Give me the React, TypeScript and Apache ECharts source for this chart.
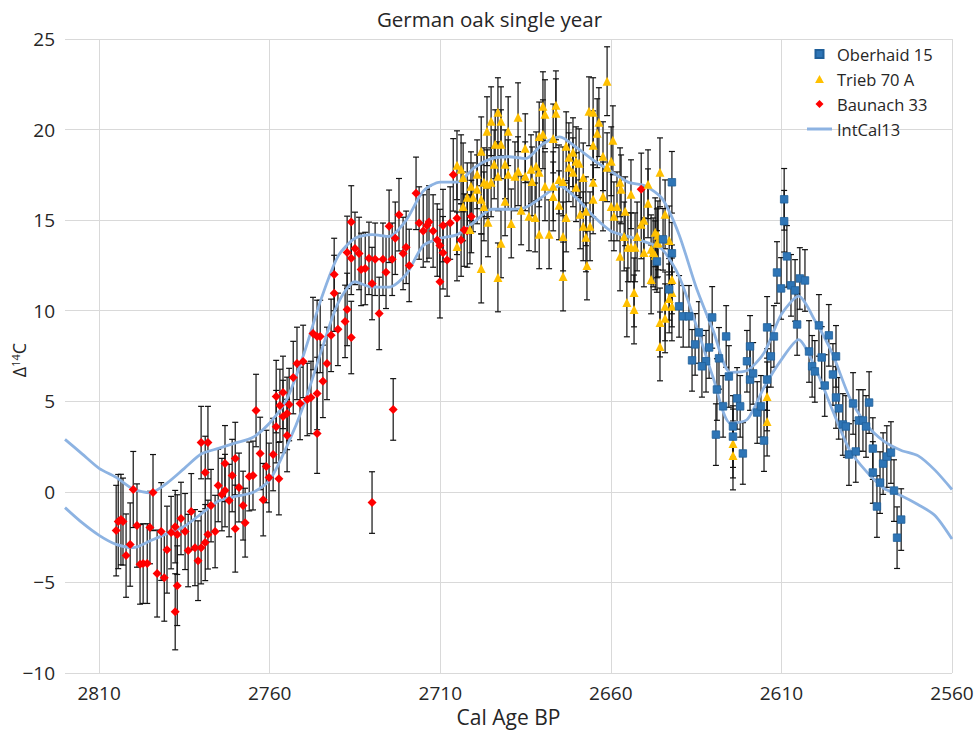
import React, { useEffect, useRef } from "react";
import * as echarts from "echarts";

// x values are plotted as (year - X_ORIGIN) so that ticks fall on 2810, 2760, ... 2560
const X_ORIGIN = 2560;
const X_SPAN = 260; // left edge = 2820 cal BP
const X_TICK_STEP = 50;
const Y_MIN = -10;
const Y_MAX = 25;
const Y_STEP = 5;

const TITLE = "German oak single year";
const X_NAME = "Cal Age BP";

const INTCAL_YEARS = [
  2820, 2815, 2810, 2805, 2800, 2795, 2790, 2785, 2780, 2775, 2770, 2765, 2760,
  2755, 2750, 2745, 2740, 2735, 2730, 2725, 2720, 2715, 2710, 2705, 2700,
  2695, 2690, 2685, 2680, 2675, 2670, 2665, 2660, 2655, 2650, 2645, 2640,
  2635, 2630, 2625, 2620, 2615, 2610, 2605, 2600, 2595, 2590, 2585, 2580,
  2575, 2570, 2565, 2560,
];
const INTCAL_UPPER = [
  2.9, 2.1, 1.3, 0.8, 0.15, -0.05, 0.5, 1.3, 2.1, 2.4, 2.7, 3.0, 3.8,
  5.1, 7.6, 10.6, 13.0, 14.0, 14.2, 14.1, 15.0, 16.6, 17.1, 17.1, 17.9,
  18.4, 18.5, 18.4, 19.2, 19.6, 19.0, 18.3, 17.7, 17.1, 16.9, 16.2, 14.2,
  11.3, 8.9, 6.6, 6.7, 7.7, 9.8, 10.8, 9.4, 7.6, 5.2, 3.7, 2.8,
  2.3, 2.0, 1.2, 0.13,
];
const INTCAL_LOWER = [
  -0.87, -1.7, -2.4, -2.9, -3.08, -2.7, -2.3, -1.9, -1.2, -0.5, -0.25, -0.04, 0.65,
  2.5, 4.8, 7.7, 10.4, 11.6, 11.3, 11.3, 12.0, 13.6, 14.0, 14.2, 14.9,
  15.6, 15.6, 15.7, 16.3, 16.9, 16.2, 15.2, 14.4, 14.1, 13.8, 13.4, 11.9,
  9.2, 6.3, 3.8, 4.0, 5.8, 7.3, 8.4, 6.8, 4.5, 2.3, 1.1, 0.2,
  -0.2, -0.7, -1.3, -2.6,
];

// [year, Δ14C]
const OBERHAID_15 = [
  [2642.1, 17.09], [2644.7, 13.94], [2642.1, 13.17], [2646.5, 12.72], [2642.9, 11.18],
  [2640.0, 10.24], [2638.8, 9.69], [2637.1, 9.69], [2630.3, 9.63], [2634.2, 8.8],
  [2635.3, 8.14], [2631.2, 7.97], [2636.2, 7.26], [2632.1, 7.21], [2633.3, 6.93],
  [2626.2, 8.58], [2628.3, 7.37], [2625.4, 6.37], [2628.9, 5.65], [2627.1, 4.72],
  [2629.2, 3.16], [2623.0, 5.16], [2622.1, 4.72], [2624.2, 3.61], [2624.2, 3.05],
  [2621.3, 2.12], [2620.1, 7.21], [2619.2, 8.03], [2619.2, 6.2], [2618.3, 6.54],
  [2617.1, 4.38], [2616.0, 4.72], [2615.1, 2.83], [2614.2, 6.2], [2614.2, 9.08],
  [2613.1, 7.48], [2612.2, 8.58], [2611.3, 12.11], [2610.1, 11.23], [2609.2, 16.15],
  [2609.2, 14.94], [2608.4, 13.0], [2607.2, 11.4], [2606.0, 11.12], [2605.4, 9.24],
  [2604.6, 11.78], [2603.1, 11.67], [2601.9, 7.75], [2601.0, 6.93], [2600.2, 6.65],
  [2599.0, 9.19], [2598.2, 7.42], [2597.3, 5.87], [2596.1, 8.64], [2594.9, 6.48],
  [2594.0, 7.48], [2594.0, 5.21], [2593.2, 4.61], [2592.0, 3.72], [2591.1, 3.61],
  [2590.2, 2.06], [2589.0, 4.88], [2588.2, 2.23], [2587.3, 3.94], [2586.1, 3.94],
  [2585.2, 3.61], [2584.3, 4.93], [2583.2, 2.39], [2583.2, 1.07], [2582.0, -0.81],
  [2581.1, 0.51], [2580.2, 1.56], [2579.1, 1.95], [2577.9, 2.17], [2577.0, 0.07],
  [2576.1, -2.53], [2574.9, -1.53],
];
const OBERHAID_SIGMA = 1.7;

const TRIEB_70A = [
  [2705.1, 18.03], [2705.1, 13.55], [2703.9, 17.81], [2703.3, 17.36], [2703.3, 15.76],
  [2702.1, 16.26], [2701.0, 16.87], [2701.3, 14.49], [2700.4, 16.26], [2699.2, 17.53],
  [2699.2, 16.7], [2698.0, 18.8], [2698.0, 16.15], [2698.0, 12.33], [2697.2, 17.09],
  [2697.2, 15.76], [2696.3, 16.98], [2696.3, 19.91], [2696.0, 14.88], [2695.1, 17.09],
  [2695.1, 20.46], [2694.2, 18.08], [2693.9, 19.19], [2693.1, 20.96], [2693.1, 17.42],
  [2693.1, 11.84], [2692.2, 20.46], [2692.2, 19.19], [2692.2, 13.72], [2691.0, 18.08],
  [2691.0, 16.04], [2690.1, 19.91], [2690.1, 17.53], [2689.2, 14.82], [2688.1, 17.42],
  [2687.2, 20.68], [2687.2, 17.7], [2686.3, 15.54], [2685.1, 18.97], [2685.1, 17.42],
  [2684.0, 15.21], [2683.4, 17.81], [2683.1, 17.14], [2682.2, 15.15], [2681.9, 17.97],
  [2681.0, 17.64], [2681.0, 14.22], [2681.0, 19.62], [2679.9, 21.29], [2679.9, 19.74],
  [2679.3, 20.85], [2679.3, 16.87], [2678.1, 14.22], [2676.9, 19.51], [2676.9, 16.87],
  [2676.9, 16.31], [2676.1, 21.34], [2676.1, 20.9], [2675.2, 17.25], [2675.2, 15.82],
  [2674.0, 17.14], [2674.0, 14.1], [2674.0, 11.89], [2673.1, 19.08], [2673.1, 15.15],
  [2672.3, 18.47], [2672.3, 17.92], [2671.1, 18.75], [2671.1, 17.64], [2670.2, 18.25],
  [2670.2, 16.82], [2669.3, 18.14], [2669.0, 15.32], [2668.1, 17.36], [2668.1, 14.66],
  [2667.3, 15.49], [2667.3, 14.05], [2667.0, 12.5], [2666.4, 21.01], [2666.1, 14.66],
  [2665.2, 20.96], [2665.2, 19.13], [2665.2, 17.09], [2665.2, 16.15], [2664.0, 19.8],
  [2663.5, 20.41], [2662.3, 18.53], [2662.3, 16.31], [2661.1, 17.92], [2661.1, 22.67],
  [2659.9, 18.25], [2659.9, 15.76], [2659.4, 19.41], [2659.1, 15.21], [2658.2, 15.76],
  [2657.3, 17.09], [2657.3, 13.0], [2657.0, 16.7], [2656.1, 14.1], [2655.8, 15.49],
  [2655.3, 10.46], [2655.0, 13.5], [2654.1, 16.43], [2654.1, 13.5], [2653.2, 11.01],
  [2653.2, 10.07], [2652.9, 13.5], [2652.3, 14.1], [2651.1, 14.77], [2650.3, 13.22],
  [2650.3, 14.99], [2649.1, 16.98], [2649.1, 15.93], [2648.2, 11.73], [2648.2, 13.39],
  [2647.6, 13.22], [2647.0, 14.33], [2647.0, 13.06], [2646.5, 13.72], [2646.2, 14.16],
  [2646.2, 13.77], [2645.6, 17.64], [2645.6, 9.35], [2645.6, 8.03], [2644.1, 15.32],
  [2642.9, 13.88], [2642.1, 11.73], [2642.1, 11.01], [2642.9, 10.68], [2644.1, 10.24],
  [2642.1, 10.24], [2644.1, 9.58], [2624.2, 2.67], [2624.2, 2.01], [2614.2, 5.27],
  [2614.2, 3.88],
];
const TRIEB_SIGMA = 1.9;

// [year, Δ14C, sigma]
const BAUNACH_33 = [
  [2805.0, -2.14, 2.5], [2804.4, -1.64, 2.6], [2803.6, -1.53, 2.5], [2803.0, -1.64, 2.4],
  [2802.1, -3.52, 2.3], [2800.9, -2.91, 2.3], [2800.0, 0.13, 2.1], [2798.9, -1.86, 2.3],
  [2798.0, -4.0, 2.2], [2797.1, -3.96, 2.2], [2795.9, -3.96, 2.2], [2795.1, -1.97, 2.0],
  [2794.2, -0.04, 2.1], [2793.0, -4.51, 2.4], [2791.8, -2.19, 2.7], [2790.9, -4.74, 2.4],
  [2790.1, -3.19, 2.4], [2788.9, -2.25, 2.0], [2787.7, -1.92, 2.0], [2787.7, -6.62, 2.1],
  [2787.1, -5.18, 2.2], [2787.1, -2.36, 2.2], [2786.0, -1.47, 2.0], [2784.8, -2.19, 2.1],
  [2783.9, -3.24, 2.0], [2783.0, -1.09, 2.1], [2781.9, -3.08, 2.1], [2781.0, -3.8, 2.2],
  [2780.1, -3.08, 2.0], [2778.9, -2.8, 2.1], [2778.9, 1.07, 2.0], [2780.1, 2.72, 2.0],
  [2778.1, 2.72, 2.0], [2778.1, -2.36, 1.9], [2777.2, -0.76, 2.0], [2776.0, -2.19, 2.0],
  [2775.1, 0.35, 2.0], [2774.0, -0.15, 2.0], [2773.1, 0.07, 2.0], [2773.1, 1.56, 2.1],
  [2771.9, -0.48, 2.0], [2771.0, 0.9, 2.0], [2770.1, 1.84, 2.0], [2770.1, -2.03, 2.4],
  [2769.0, 0.24, 1.9], [2767.8, -0.76, 1.9], [2767.2, -1.7, 1.9], [2766.0, 0.85, 1.9],
  [2764.9, 0.9, 1.9], [2764.0, 4.49, 2.0], [2762.8, 2.12, 2.0], [2761.9, -0.43, 2.0],
  [2761.0, 1.4, 2.0], [2760.2, 0.79, 1.9], [2759.0, 2.06, 2.0], [2758.1, 3.6, 2.0],
  [2758.1, 5.26, 2.0], [2757.3, 0.73, 2.0], [2757.0, 4.77, 2.0], [2756.1, 5.49, 2.0],
  [2756.1, 4.16, 2.0], [2754.9, 4.33, 2.0], [2754.9, 3.11, 2.0], [2754.3, 4.82, 2.0],
  [2753.1, 6.31, 2.0], [2752.0, 7.09, 2.0], [2751.1, 4.88, 2.0], [2750.2, 7.2, 2.0],
  [2749.0, 5.1, 2.0], [2747.9, 5.21, 2.0], [2747.3, 8.74, 2.0], [2746.1, 3.22, 2.2],
  [2746.1, 5.43, 2.0], [2746.1, 8.58, 2.0], [2745.2, 8.58, 2.0], [2744.4, 6.1, 2.0],
  [2743.2, 7.09, 2.0], [2742.0, 8.64, 2.0], [2741.1, 10.96, 2.1], [2741.1, 12.0, 2.0],
  [2740.0, 8.97, 2.0], [2737.9, 9.41, 2.0], [2737.3, 10.07, 2.0], [2737.3, 13.22, 2.0],
  [2736.1, 12.89, 2.0], [2736.1, 8.52, 2.0], [2736.1, 14.9, 2.0], [2735.0, 13.44, 2.0],
  [2733.8, 13.16, 2.0], [2733.2, 12.28, 2.0], [2732.0, 12.33, 2.0], [2730.9, 12.89, 2.0],
  [2730.0, 11.5, 2.0], [2730.0, -0.59, 1.7], [2729.1, 12.84, 2.0], [2727.9, 9.85, 2.0],
  [2726.8, 12.84, 2.0], [2725.9, 12.12, 2.0], [2725.0, 14.66, 2.0], [2724.1, 12.84, 2.0],
  [2723.8, 4.55, 1.7], [2723.2, 14.0, 2.0], [2722.1, 15.3, 2.0], [2720.9, 13.16, 2.0],
  [2720.0, 13.5, 2.0], [2719.1, 12.5, 2.0], [2717.1, 16.48, 2.0], [2716.2, 14.84, 2.0],
  [2715.0, 14.4, 2.0], [2713.9, 14.7, 2.0], [2713.3, 14.9, 2.0], [2712.1, 14.4, 2.0],
  [2710.9, 13.9, 2.0], [2710.1, 13.6, 2.0], [2710.1, 11.6, 2.0], [2709.2, 14.7, 2.0],
  [2709.2, 13.2, 2.0], [2708.0, 12.8, 2.0], [2707.1, 14.84, 2.0], [2706.2, 17.5, 2.0],
  [2705.1, 15.1, 2.0], [2703.9, 13.9, 2.0], [2703.0, 14.45, 2.0], [2702.1, 14.4, 2.0],
  [2700.9, 15.2, 2.0], [2651.1, 16.7, 2.0],
];

const FONT = "'Open Sans', 'Liberation Sans', sans-serif";
const TEXT_COLOR = "#262626";
const GRID_COLOR = "#d9d9d9";
const C_OBERHAID = "#2e75b6";
const C_TRIEB = "#ffc000";
const C_BAUNACH = "#ff0000";
const C_INTCAL = "#8db3e2";

const ICON_SQUARE = "path://M0,0L10,0L10,10L0,10Z";
const ICON_TRIANGLE = "path://M5,0L10,9L0,9Z";
const ICON_DIAMOND = "path://M5,0L10,5L5,10L0,5Z";
const ICON_LINE = "path://M0,0L25,0L25,3L0,3Z";

function errorBarSeries(name: string, data: number[][]) {
  return {
    type: "custom",
    name,
    z: 1,
    silent: true,
    encode: { x: 0, y: 1 },
    data,
    renderItem: (_params: any, api: any) => {
      const x = api.value(0);
      const y = api.value(1);
      const s = api.value(2);
      const top = api.coord([x, y + s]);
      const bot = api.coord([x, y - s]);
      const cap = 3;
      const style = { stroke: "#111", lineWidth: 1.2 };
      return {
        type: "group",
        children: [
          { type: "line", shape: { x1: top[0], y1: top[1], x2: bot[0], y2: bot[1] }, style },
          { type: "line", shape: { x1: top[0] - cap, y1: top[1], x2: top[0] + cap, y2: top[1] }, style },
          { type: "line", shape: { x1: bot[0] - cap, y1: bot[1], x2: bot[0] + cap, y2: bot[1] }, style },
        ],
      };
    },
  };
}

export default function App() {
  const ref = useRef<HTMLDivElement>(null);

  useEffect(() => {
    if (!ref.current) return;
    const chart = echarts.init(ref.current, undefined, { renderer: "svg" });

    const toX = (year: number) => +(year - X_ORIGIN).toFixed(2);
    const ober = OBERHAID_15.map(([yr, v]) => [toX(yr), v, OBERHAID_SIGMA]);
    const trieb = TRIEB_70A.map(([yr, v]) => [toX(yr), v, TRIEB_SIGMA]);
    const baun = BAUNACH_33.map(([yr, v, s]) => [toX(yr), v, s]);
    const upper = INTCAL_YEARS.map((yr, i) => [toX(yr), INTCAL_UPPER[i]]);
    const lower = INTCAL_YEARS.map((yr, i) => [toX(yr), INTCAL_LOWER[i]]);

    const option: any = {
      animation: false,
      backgroundColor: "#ffffff",
      title: {
        text: TITLE,
        left: "center",
        top: 3,
        textStyle: { fontFamily: FONT, fontSize: 20.5, fontWeight: "normal", color: TEXT_COLOR },
      },
      legend: {
        orient: "vertical",
        left: 802,
        top: 38,
        itemWidth: 25,
        itemHeight: 8,
        itemGap: 3,
        textStyle: { fontFamily: FONT, fontSize: 16.5, color: TEXT_COLOR, lineHeight: 22 },
        data: [
          { name: "Oberhaid 15", icon: ICON_SQUARE },
          { name: "Trieb 70 A", icon: ICON_TRIANGLE },
          { name: "Baunach 33", icon: ICON_DIAMOND },
          { name: "IntCal13", icon: ICON_LINE },
        ],
      },
      graphic: [
        {
          type: "text",
          x: 19,
          y: 360,
          rotation: Math.PI / 2,
          style: {
            text: "{d|Δ}{s|14}{d|C}",
            align: "center",
            verticalAlign: "middle",
            fill: TEXT_COLOR,
            rich: {
              d: { fontFamily: FONT, fontSize: 18, fill: TEXT_COLOR },
              s: { fontFamily: FONT, fontSize: 11, fill: TEXT_COLOR, padding: [0, 0, 8, 0] },
            },
          },
        },
      ],
      grid: { left: 65, right: 27, top: 39, bottom: 57, containLabel: false, outerBoundsMode: "none" },
      xAxis: {
        type: "value",
        min: 0,
        max: X_SPAN,
        interval: X_TICK_STEP,
        inverse: true,
        name: X_NAME,
        nameLocation: "middle",
        nameGap: 33,
        nameTextStyle: { fontFamily: FONT, fontSize: 21, color: TEXT_COLOR },
        axisLine: { show: false },
        axisTick: { show: false },
        axisLabel: {
          fontFamily: FONT,
          fontSize: 19,
          color: TEXT_COLOR,
          margin: 10,
          formatter: (v: number) => (v <= X_SPAN - 10 ? String(v + X_ORIGIN) : ""),
        },
        splitLine: { show: true, showMaxLine: false, lineStyle: { color: GRID_COLOR, width: 1 } },
      },
      yAxis: {
        type: "value",
        min: Y_MIN,
        max: Y_MAX,
        interval: Y_STEP,
        axisLine: { show: false },
        axisTick: { show: false },
        axisLabel: {
          fontFamily: FONT,
          fontSize: 19,
          color: TEXT_COLOR,
          margin: 10,
          formatter: (v: number) => (v < 0 ? "\u2212" + Math.abs(v) : String(v)),
        },
        splitLine: { show: true, lineStyle: { color: GRID_COLOR, width: 1 } },
      },
      series: [
        errorBarSeries("err-baunach", baun),
        errorBarSeries("err-trieb", trieb),
        errorBarSeries("err-oberhaid", ober),
        {
          type: "line",
          name: "IntCal13",
          data: upper,
          symbol: "none",
          smooth: 0.25,
          z: 2,
          lineStyle: { color: C_INTCAL, width: 2.8 },
          itemStyle: { color: C_INTCAL },
        },
        {
          type: "line",
          name: "IntCal13",
          data: lower,
          symbol: "none",
          smooth: 0.25,
          z: 2,
          lineStyle: { color: C_INTCAL, width: 2.8 },
          itemStyle: { color: C_INTCAL },
        },
        {
          type: "scatter",
          name: "Baunach 33",
          data: baun.map((d) => [d[0], d[1]]),
          symbol: "diamond",
          symbolSize: 9,
          z: 3,
          itemStyle: { color: C_BAUNACH, opacity: 1 },
        },
        {
          type: "scatter",
          name: "Trieb 70 A",
          data: trieb.map((d) => [d[0], d[1]]),
          symbol: "triangle",
          symbolSize: 9,
          z: 3,
          itemStyle: { color: C_TRIEB, opacity: 1 },
        },
        {
          type: "scatter",
          name: "Oberhaid 15",
          data: ober.map((d) => [d[0], d[1]]),
          symbol: "rect",
          symbolSize: 7.5,
          z: 3,
          itemStyle: { color: C_OBERHAID, borderColor: "#1f5f99", borderWidth: 0.8, opacity: 1 },
        },
      ],
    };

    chart.setOption(option);
    return () => chart.dispose();
  }, []);

  return (
    <div
      ref={ref}
      style={{ position: "fixed", left: 0, top: 0, width: 979, height: 730, background: "#fff" }}
    />
  );
}
